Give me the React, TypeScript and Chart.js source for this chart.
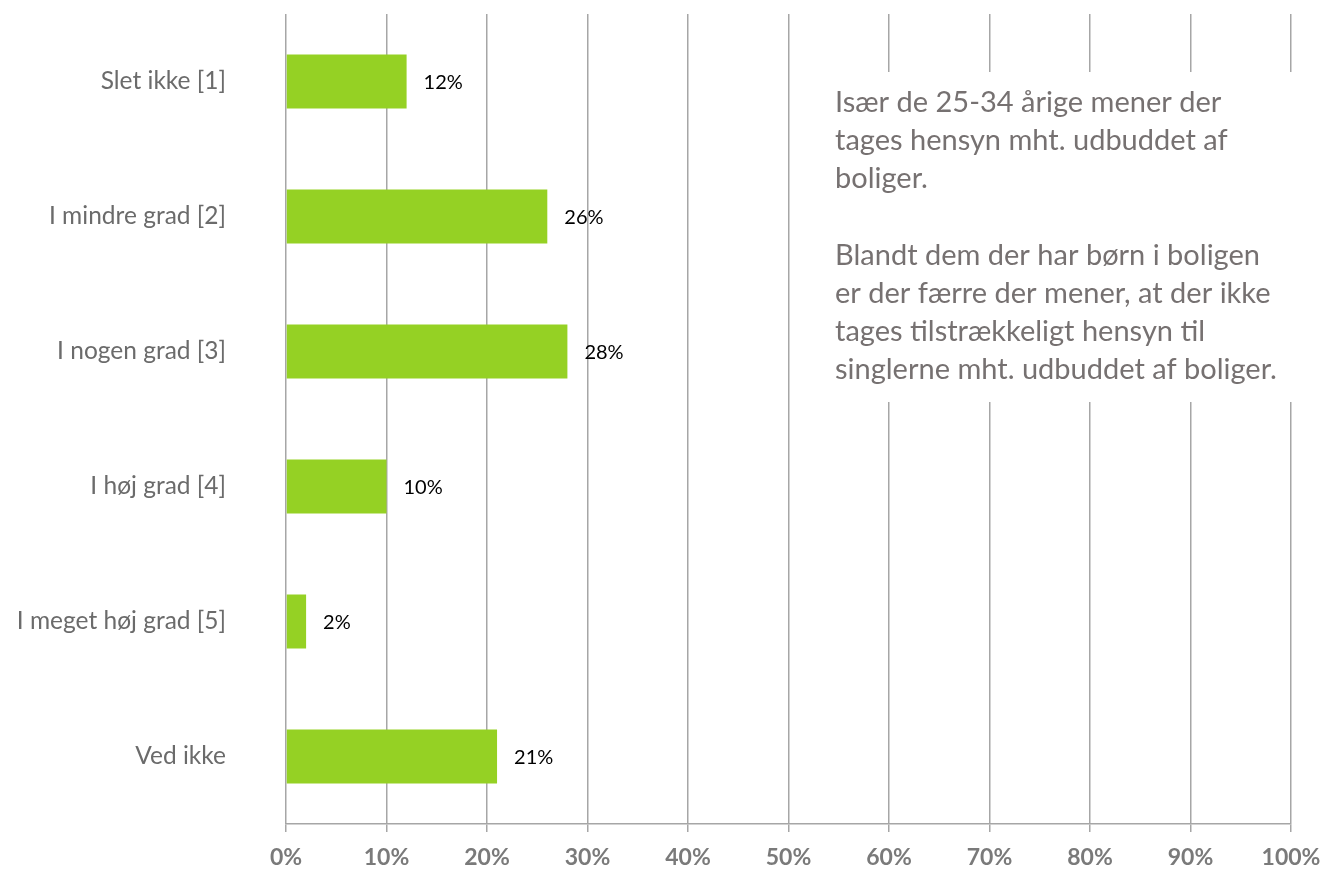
import React, { useEffect, useRef } from "react";
import { Chart, registerables } from "chart.js";

Chart.register(...registerables);

const categories = [
  "Slet ikke [1]",
  "I mindre grad [2]",
  "I nogen grad [3]",
  "I høj grad [4]",
  "I meget høj grad [5]",
  "Ved ikke",
];
const values = [12, 26, 28, 10, 2, 21];
const tickValues = [0, 10, 20, 30, 40, 50, 60, 70, 80, 90, 100];
const noteLines = [
  "Især de 25-34 årige mener der",
  "tages hensyn mht. udbuddet af",
  "boliger.",
  "",
  "Blandt dem der har børn i boligen",
  "er der færre der mener, at der ikke",
  "tages tilstrækkeligt hensyn til",
  "singlerne mht. udbuddet af boliger.",
];

const FONT = "Lato, 'Open Sans', sans-serif";

const labelPlugin = {
  id: "barLabels",
  afterDatasetsDraw(chart: any) {
    const ctx = chart.ctx;
    const meta = chart.getDatasetMeta(0);
    ctx.save();
    ctx.font = `20px ${FONT}`;
    ctx.fillStyle = "#000000";
    ctx.textAlign = "left";
    ctx.textBaseline = "middle";
    meta.data.forEach((bar: any, i: number) => {
      ctx.fillText(values[i] + "%", bar.x + 17, bar.y + 1);
    });
    ctx.restore();
  },
};

const notePlugin = {
  id: "noteBox",
  afterDraw(chart: any) {
    const ctx = chart.ctx;
    const xs = chart.scales.x;
    const left = xs.getPixelForValue(54);
    const right = xs.right + 4;
    ctx.save();
    ctx.fillStyle = "#ffffff";
    ctx.fillRect(left, 72, right - left, 330);
    ctx.font = `29px ${FONT}`;
    ctx.fillStyle = "#767171";
    ctx.textAlign = "left";
    ctx.textBaseline = "alphabetic";
    noteLines.forEach((line, i) => {
      ctx.fillText(line, 835, 111.7 + i * 38.2);
    });
    ctx.restore();
  },
};

export default function App() {
  const ref = useRef<HTMLCanvasElement | null>(null);
  useEffect(() => {
    if (!ref.current) return;
    const chart = new Chart(ref.current, {
      type: "bar",
      data: {
        labels: categories,
        datasets: [
          {
            data: values,
            backgroundColor: "#95d124",
            barPercentage: 0.8,
            categoryPercentage: 0.5,
          },
        ],
      },
      options: {
        indexAxis: "y",
        animation: false,
        responsive: false,
        maintainAspectRatio: false,
        layout: { padding: { top: 14, right: 35, left: 0, bottom: 0 } },
        plugins: { legend: { display: false }, tooltip: { enabled: false } },
        scales: {
          x: {
            min: 0,
            max: 100,
            afterBuildTicks(scale: any) {
              scale.ticks = tickValues.map((v) => ({ value: v }));
            },
            afterFit(scale: any) {
              scale.height = 45;
              scale.paddingLeft = 0;
              scale.paddingRight = 0;
            },
            grid: {
              color: "#a6a6a6",
              lineWidth: 1.5,
              tickLength: 8,
              drawTicks: true,
            },
            border: { display: true, color: "#a6a6a6", width: 1.5 },
            ticks: {
              padding: 12,
              color: "#7a7a7a",
              font: { family: FONT, size: 23, weight: "bold" },
              callback: (v: any) => v + "%",
            },
          },
          y: {
            afterFit(scale: any) {
              scale.width = 286;
              scale.paddingTop = 0;
              scale.paddingBottom = 0;
            },
            grid: { display: false, drawTicks: false },
            border: { display: false },
            ticks: {
              padding: 60,
              color: "#6b6b6b",
              font: { family: FONT, size: 24.5 },
            },
          },
        },
      },
      plugins: [labelPlugin, notePlugin],
    } as any);
    return () => chart.destroy();
  }, []);
  return (
    <div style={{ position: "fixed", left: 0, top: 0, width: 1326, height: 869, background: "#fff" }}>
      <canvas ref={ref} width={1326} height={869} style={{ width: 1326, height: 869 }} />
    </div>
  );
}
